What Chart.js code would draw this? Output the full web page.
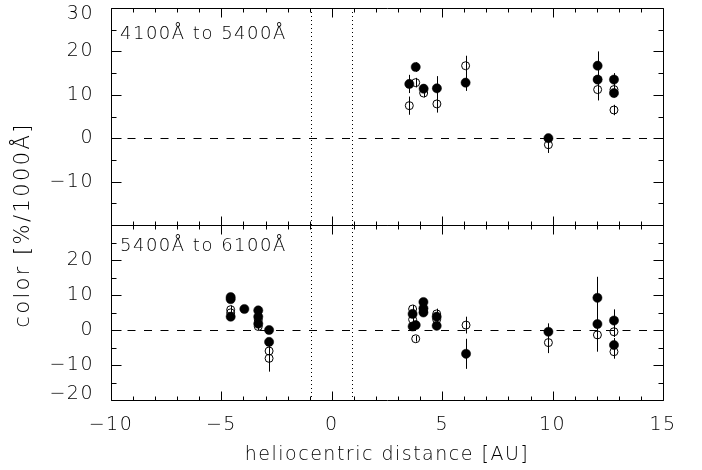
<!DOCTYPE html>
<html>
<head>
<meta charset="utf-8">
<script src="https://cdn.jsdelivr.net/npm/chart.js@4.4.1/dist/chart.umd.min.js"></script>
<style>
  html, body { margin: 0; padding: 0; background: #ffffff; }
  #wrap { width: 702px; height: 470px; position: relative; }
</style>
</head>
<body>
<div id="wrap"><canvas id="c" width="702" height="470"></canvas></div>
<script>
// ---- Data ----
// Upper panel: 4100Å to 5400Å
const topFilledX   = [3.51, 3.80, 4.16, 4.76, 6.06, 9.81, 12.04, 12.04, 12.78, 12.78];
const topFilledY   = [12.5, 16.4, 11.4, 11.5, 12.8, 0.0, 16.7, 13.5, 13.5, 10.4];
const topFilledErr = [2.1, 1.1, 1.0, 2.8, 1.9, 0.8, 3.3, 1.5, 1.5, 1.0];
const topOpenX     = [3.51, 3.80, 4.16, 4.76, 6.06, 9.81, 12.04, 12.04, 12.78, 12.78];
const topOpenY     = [7.5, 12.8, 10.4, 7.9, 16.7, -1.5, 13.5, 11.2, 11.2, 6.5];
const topOpenErr   = [2.1, 1.1, 1.0, 2.0, 2.3, 1.9, 1.5, 2.5, 1.2, 1.2];

// Lower panel: 5400Å to 6100Å
const botFilledX   = [-4.58, -4.58, -4.58, -3.96, -3.33, -3.33, -3.33, -2.84, -2.84, 3.66, 3.66, 3.80, 4.15, 4.15, 4.15, 4.75, 4.75, 6.08, 9.81, 12.03, 12.03, 12.78, 12.78];
const botFilledY   = [9.4, 8.8, 3.8, 6.0, 5.6, 3.8, 1.8, 0.0, -3.4, 4.6, 1.0, 1.4, 8.0, 6.2, 5.0, 3.8, 1.2, -6.8, -0.5, 9.2, 1.7, 2.7, -4.3];
const botFilledErr = [0.8, 0.8, 1.0, 0.8, 0.8, 0.8, 0.8, 0.5, 1.0, 1.0, 1.0, 0.8, 1.0, 1.0, 1.0, 2.2, 1.0, 4.3, 2.4, 6.0, 2.0, 3.2, 2.0];
const botOpenX     = [-4.58, -4.58, -3.33, -3.33, -2.84, -2.84, 3.66, 3.66, 3.80, 4.15, 4.75, 4.75, 6.08, 9.81, 12.03, 12.78, 12.78];
const botOpenY     = [5.8, 4.9, 2.9, 1.0, -6.0, -8.1, 6.0, 3.0, -2.5, 5.4, 4.6, 3.0, 1.4, -3.6, -1.4, -0.5, -6.2];
const botOpenErr   = [1.2, 1.0, 1.0, 1.0, 1.5, 3.8, 1.2, 1.0, 0.8, 1.0, 1.5, 1.0, 2.4, 3.0, 4.8, 1.5, 2.0];

// Axis ranges and tick labels
const xRange = [-10, 15];
const xTickValues = [-10, -5, 0, 5, 10, 15];
const yRange = [-20, 30];
const topTickValues = [-10, 0, 10, 20, 30];
const botTickValues = [-20, -10, 0, 10, 20];
const verticalMarkersX = [-0.92, 0.92];
const zeroLineY = 0;
const panelLabels = ['4100Å to 5400Å', '5400Å to 6100Å'];
const xTitle = 'heliocentric distance [AU]';
const yTitle = 'color [%/1000Å]';

const FONT = 'DejaVu Sans';
const WEIGHT = 200;
const LS = '1.5px';

function pts(xs, ys) { return xs.map((x, i) => ({ x: x, y: ys[i] })); }
function fmt(v) { return v < 0 ? '\u2212' + Math.abs(v) : String(v); }

const datasets = [
  { label: 'top open', data: pts(topOpenX, topOpenY), yAxisID: 'yTop', err: topOpenErr,
    pointRadius: 4, pointBackgroundColor: 'rgba(0,0,0,0)', pointBorderColor: '#000', pointBorderWidth: 1 },
  { label: 'top filled', data: pts(topFilledX, topFilledY), yAxisID: 'yTop', err: topFilledErr,
    pointRadius: 4.6, pointBackgroundColor: '#000', pointBorderColor: '#000', pointBorderWidth: 0.5 },
  { label: 'bottom open', data: pts(botOpenX, botOpenY), yAxisID: 'yBot', err: botOpenErr,
    pointRadius: 4, pointBackgroundColor: 'rgba(0,0,0,0)', pointBorderColor: '#000', pointBorderWidth: 1 },
  { label: 'bottom filled', data: pts(botFilledX, botFilledY), yAxisID: 'yBot', err: botFilledErr,
    pointRadius: 4.6, pointBackgroundColor: '#000', pointBorderColor: '#000', pointBorderWidth: 0.5 }
];
datasets.forEach(d => { d.xAxisID = 'x'; d.showLine = false; d.pointHoverRadius = d.pointRadius; });

function setLS(chart) { chart.ctx.letterSpacing = LS; }
function noPad(s) { s.paddingTop = 0; s.paddingBottom = 0; s.paddingLeft = 0; s.paddingRight = 0; }

const idlPlugin = {
  id: 'idl',
  beforeLayout(chart) { setLS(chart); },
  beforeDraw(chart) { setLS(chart); },
  beforeDatasetsDraw(chart) {
    const ctx = chart.ctx;
    const xs = chart.scales.x;
    const yT = chart.scales.yTop, yB = chart.scales.yBot;
    ctx.save();
    ctx.strokeStyle = '#000';
    ctx.lineWidth = 1;
    [yT, yB].forEach(ys => {
      const py = Math.round(ys.getPixelForValue(zeroLineY)) + 0.5;
      ctx.setLineDash([8, 8.5]);
      ctx.beginPath(); ctx.moveTo(xs.left, py); ctx.lineTo(xs.right, py); ctx.stroke();
    });
    ctx.setLineDash([1, 3]);
    const top = Math.min(yT.top, yB.top), bottom = Math.max(yT.bottom, yB.bottom);
    verticalMarkersX.forEach(v => {
      const px = Math.round(xs.getPixelForValue(v)) + 0.5;
      ctx.beginPath();
      ctx.moveTo(px, top); ctx.lineTo(px, bottom);
      ctx.stroke();
    });
    ctx.setLineDash([]);
    // error bars
    chart.data.datasets.forEach(ds => {
      const ys = chart.scales[ds.yAxisID];
      ds.data.forEach((p, i) => {
        const e = ds.err[i];
        const px = Math.round(xs.getPixelForValue(p.x)) + 0.5;
        ctx.beginPath();
        ctx.moveTo(px, ys.getPixelForValue(p.y - e));
        ctx.lineTo(px, ys.getPixelForValue(p.y + e));
        ctx.stroke();
      });
    });
    ctx.restore();
  },
  afterDatasetsDraw(chart) {
    const ctx = chart.ctx;
    const xs = chart.scales.x;
    ctx.save();
    ctx.strokeStyle = '#000';
    ctx.lineWidth = 1;
    ['yTop', 'yBot'].forEach(id => {
      const ys = chart.scales[id];
      const L = Math.round(xs.left) + 0.5, R = Math.round(xs.right) + 0.5;
      const T = Math.round(ys.top) + 0.5, B = Math.round(ys.bottom) + 0.5;
      ctx.beginPath();
      ctx.rect(L, T, R - L, B - T);
      ctx.stroke();
      ctx.beginPath();
      for (let v = xs.min; v <= xs.max + 1e-9; v += 1) {
        const px = Math.round(xs.getPixelForValue(v)) + 0.5;
        const len = (Math.abs(v) % 5 === 0) ? 9 : 4;
        ctx.moveTo(px, B); ctx.lineTo(px, B - len);
        ctx.moveTo(px, T); ctx.lineTo(px, T + len);
      }
      for (let v = ys.min; v <= ys.max + 1e-9; v += 5) {
        const py = Math.round(ys.getPixelForValue(v)) + 0.5;
        const len = (Math.abs(v) % 10 === 0) ? 10 : 5;
        ctx.moveTo(L, py); ctx.lineTo(L + len, py);
        ctx.moveTo(R, py); ctx.lineTo(R - len, py);
      }
      ctx.stroke();
    });
    // panel labels
    ctx.fillStyle = '#000';
    ctx.font = WEIGHT + ' 18px "' + FONT + '"';
    ctx.letterSpacing = LS;
    ctx.textAlign = 'left';
    ctx.textBaseline = 'middle';
    ctx.fillText(panelLabels[0], xs.left + 9, chart.scales.yTop.top + 26);
    ctx.fillText(panelLabels[1], xs.left + 9, chart.scales.yBot.top + 21);
    // y title
    ctx.font = WEIGHT + ' 21px "' + FONT + '"';
    ctx.letterSpacing = '2.4px';
    ctx.textAlign = 'center';
    ctx.translate(24, 225);
    ctx.rotate(-Math.PI / 2);
    ctx.fillText(yTitle, 0, 0);
    ctx.restore();
  }
};

const tickFont = { family: FONT, size: 19, weight: WEIGHT, lineHeight: '12px' };

new Chart(document.getElementById('c'), {
  type: 'scatter',
  data: { datasets: datasets },
  options: {
    responsive: false,
    animation: false,
    events: [],
    layout: { padding: { left: 0, right: 39, top: 8, bottom: 0 } },
    plugins: { legend: { display: false }, tooltip: { enabled: false } },
    scales: {
      x: {
        type: 'linear', position: 'bottom', min: xRange[0], max: xRange[1],
        grid: { display: false }, border: { display: false },
        afterBuildTicks: s => { s.ticks = xTickValues.map(v => ({ value: v })); },
        ticks: { color: '#000', font: { family: FONT, size: 19, weight: WEIGHT }, padding: 6, maxRotation: 0, autoSkip: false, callback: v => fmt(v) },
        title: { display: true, text: xTitle, color: '#000', font: { family: FONT, size: 19, weight: WEIGHT }, padding: { top: 4 } },
        afterFit: s => { s.height = 70; noPad(s); }
      },
      yBot: {
        type: 'linear', position: 'left', stack: 'panels', stackWeight: 175,
        min: yRange[0], max: yRange[1],
        grid: { display: false }, border: { display: false },
        afterBuildTicks: s => { s.ticks = botTickValues.map(v => ({ value: v })); },
        ticks: { color: '#000', font: tickFont, padding: 9, autoSkip: false,
          callback: v => v === yRange[0] ? [fmt(v), ''] : fmt(v) },
        afterFit: s => { s.width = 111; noPad(s); }
      },
      yTop: {
        type: 'linear', position: 'left', stack: 'panels', stackWeight: 217,
        min: yRange[0], max: yRange[1],
        grid: { display: false }, border: { display: false },
        afterBuildTicks: s => { s.ticks = topTickValues.map(v => ({ value: v })); },
        ticks: { color: '#000', font: tickFont, padding: 9, autoSkip: false,
          callback: v => v === yRange[1] ? ['', fmt(v)] : fmt(v) },
        afterFit: s => { s.width = 111; noPad(s); }
      }
    }
  },
  plugins: [idlPlugin]
});
</script>
</body>
</html>
